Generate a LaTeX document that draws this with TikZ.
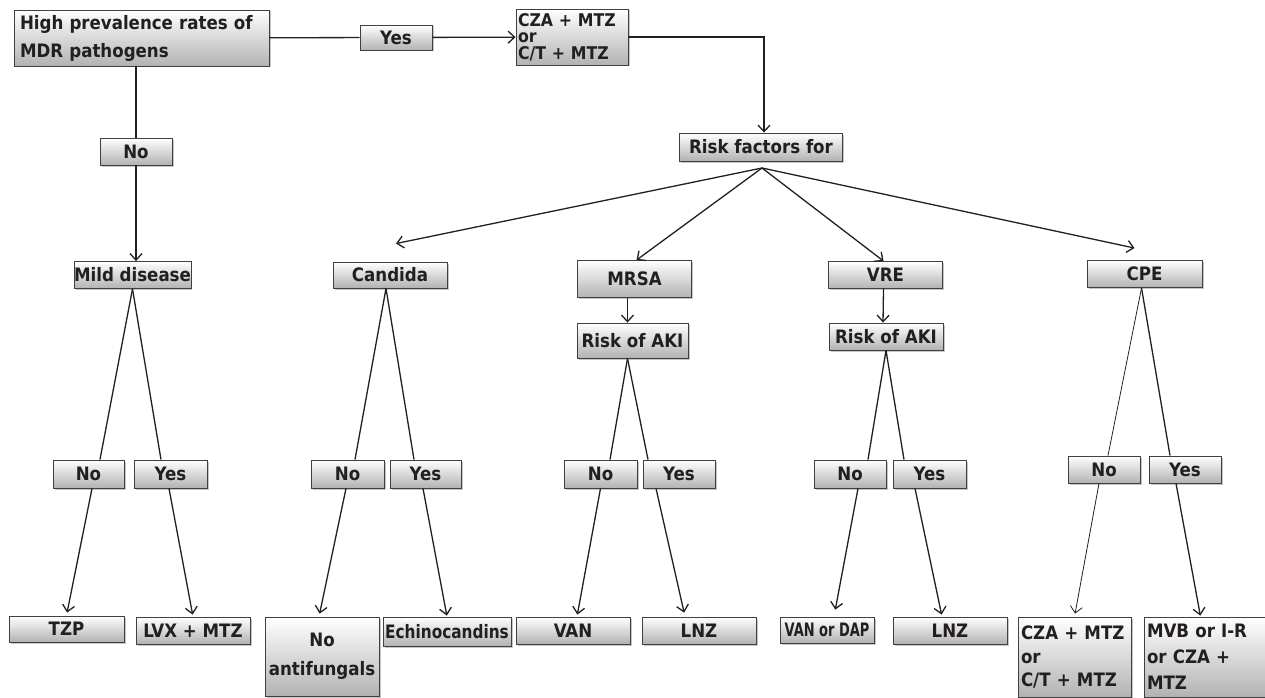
\documentclass[tikz,border=0pt]{standalone}
\usepackage{fontspec}
\setmainfont{DejaVu Sans Condensed Bold}
\usetikzlibrary{shadows,arrows.meta}
\definecolor{ink}{RGB}{35,31,32}
\begin{document}
\begin{tikzpicture}[x=1pt,y=-1pt,
	box/.style={draw=black!75, line width=0.9pt, top color=white, bottom color=black!30,
		drop shadow={shadow xshift=1.5pt, shadow yshift=-1.5pt, opacity=0.45},
		font=\fontsize{18.5}{20}\selectfont, text=ink, inner sep=0pt, align=center},
	leftbox/.style={box, align=left, inner xsep=4pt},
	line/.style={draw=ink, line width=1.3pt},
	>={Straight Barb[length=6.5pt,width=12pt]}]
	\useasboundingbox (0,0) rectangle (1265,698);
	\node[leftbox, minimum width=253pt, minimum height=56pt, text width=243pt, inner xsep=6pt, font=\fontsize{18.5}{28}\selectfont] (hp) at (141.5,38) {High prevalence rates of\\MDR pathogens};
	\node[box, minimum width=72pt, minimum height=25pt] (yes0) at (396,37.5) {Yes};
	\node[leftbox, minimum width=112pt, minimum height=56pt, text width=108pt, inner xsep=2pt, font=\fontsize{17.5}{16.5}\selectfont] (cza0) at (572,37) {CZA + MTZ\\or\\C/T + MTZ};
	\node[box, minimum width=72pt, minimum height=27pt] (no0) at (136,151.5) {No};
	\node[box, minimum width=163pt, minimum height=28pt] (rf) at (761,147) {Risk factors for};
	\coordinate (rfo) at (762,168);
	\node[box, minimum width=115pt, minimum height=27pt] (mild) at (132.5,275) {Mild disease};
	\node[box, minimum width=114pt, minimum height=26pt] (cand) at (390,275) {Candida};
	\node[box, minimum width=114pt, minimum height=37pt] (mrsa) at (634.5,279) {MRSA};
	\node[box, minimum width=111pt, minimum height=35pt] (akiA) at (632.5,340.5) {Risk of AKI};
	\node[box, minimum width=114pt, minimum height=27pt] (vre) at (885.5,275) {VRE};
	\node[box, minimum width=114pt, minimum height=27pt] (akiB) at (886,336.5) {Risk of AKI};
	\node[box, minimum width=115pt, minimum height=27pt] (cpe) at (1144.5,274) {CPE};
	\node[box, minimum width=71pt, minimum height=28pt] (mNo) at (88.5,474) {No};
	\node[box, minimum width=73pt, minimum height=28pt] (mYes) at (170.5,474) {Yes};
	\node[box, minimum width=73pt, minimum height=28pt] (cNo) at (347.5,474) {No};
	\node[box, minimum width=71pt, minimum height=28pt] (cYes) at (425.5,474) {Yes};
	\node[box, minimum width=73pt, minimum height=28pt] (aNo) at (600.5,474) {No};
	\node[box, minimum width=72pt, minimum height=28pt] (aYes) at (679,474) {Yes};
	\node[box, minimum width=72pt, minimum height=28pt] (vNo) at (850,474) {No};
	\node[box, minimum width=73pt, minimum height=28pt] (vYes) at (929.5,474) {Yes};
	\node[box, minimum width=72pt, minimum height=27pt] (pNo) at (1104,469.5) {No};
	\node[box, minimum width=72pt, minimum height=27pt] (pYes) at (1185,469.5) {Yes};
	\node[box, minimum width=115pt, minimum height=26pt] (tzp) at (66.5,629) {TZP};
	\node[box, minimum width=114pt, minimum height=27pt] (lvx) at (193,630.5) {LVX + MTZ};
	\node[box, minimum width=114pt, minimum height=79pt, font=\fontsize{18.5}{29}\selectfont] (noaf) at (322,656.5) {No\\antifungals};
	\node[box, minimum width=128pt, minimum height=29pt] (echi) at (447,631.5) {\scalebox{0.92}[1]{Echinocandins}};
	\node[box, minimum width=114pt, minimum height=27pt] (van) at (573,630.5) {VAN};
	\node[box, minimum width=114pt, minimum height=27pt] (lnzA) at (699,630.5) {LNZ};
	\node[box, minimum width=94pt, minimum height=26pt] (vod) at (827,630) {\scalebox{0.78}[1]{VAN or DAP}};
	\node[box, minimum width=114pt, minimum height=27pt] (lnzB) at (950,630.5) {LNZ};
	\node[leftbox, minimum width=113pt, minimum height=80pt, text width=107pt, inner xsep=3pt, font=\fontsize{18.5}{23.5}\selectfont] (czaB) at (1074.5,657) {CZA + MTZ\\or\\C/T + MTZ};
	\node[leftbox, minimum width=121pt, minimum height=80pt, text width=115pt, inner xsep=3pt, font=\fontsize{18.5}{26}\selectfont] (mvb) at (1204.5,657) {MVB or I-R\\or CZA +\\MTZ};
	\draw[line] (hp) -- (yes0);
	\draw[line,->] (yes0) -- (cza0);
	\draw[line,->] (cza0.east) -| ([xshift=3pt]rf.north);
	\draw[line] (hp.south -| no0.north) -- (no0.north);
	\draw[line,->] (no0.south) -- (no0.south |- mild.north);
	\draw[line,->] (rfo) -- ([xshift=6pt,yshift=18pt]cand.north);
	\draw[line,->] (rfo) -- ([xshift=2pt]mrsa.north);
	\draw[line,->] (rfo) -- ([xshift=-2pt]vre.north);
	\draw[line,->] (rfo) -- ([xshift=-10pt,yshift=12pt]cpe.north);
	\draw[line,->] ([xshift=-7pt]mrsa.south) -- ([xshift=-5pt]akiA.north);
	\draw[line,->] ([xshift=-2pt]vre.south) -- ([xshift=-3pt]akiB.north);
	\draw[line] (mild.south) -- ([xshift=11.5pt]mNo.north);
	\draw[line] (mild.south) -- ([xshift=-9.5pt]mYes.north);
	\draw[line] ([xshift=-4pt]cand.south) -- ([xshift=7.5pt]cNo.north);
	\draw[line] ([xshift=-4pt]cand.south) -- ([xshift=-11.5pt]cYes.north);
	\draw[line] ([xshift=-5pt]akiA.south) -- ([xshift=9.5pt]aNo.north);
	\draw[line] ([xshift=-5pt]akiA.south) -- ([xshift=-31pt]aYes.north);
	\draw[line] (akiB.south) -- ([xshift=18pt]vNo.north);
	\draw[line] (akiB.south) -- ([xshift=-25.5pt]vYes.north);
	\draw[line, line width=0.8pt] ([xshift=-3pt]cpe.south) -- ([xshift=4pt]pNo.north);
	\draw[line] ([xshift=-3pt]cpe.south) -- ([xshift=-15pt]pYes.north);
	\draw[line,->,shorten >=3pt] ([xshift=3.5pt]mNo.south) -- (tzp.north);
	\draw[line,->,shorten >=2pt] ([xshift=-1.5pt]mYes.south) -- (lvx.north);
	\draw[line,->,shorten >=3pt] ([xshift=-1.5pt]cNo.south) -- ([xshift=-3pt]noaf.north);
	\draw[line,->,shorten >=1pt] ([xshift=-2.5pt]cYes.south) -- (echi.north);
	\draw[line,->,shorten >=2pt] (aNo.south) -- ([xshift=4pt]van.north);
	\draw[line,->,shorten >=4pt] ([xshift=-23pt]aYes.south) -- ([xshift=-14pt]lnzA.north);
	\draw[line,->,shorten >=7pt] ([xshift=8pt]vNo.south) -- ([xshift=7pt]vod.north);
	\draw[line,->,shorten >=2pt] ([xshift=-14.5pt]vYes.south) -- ([xshift=-8pt]lnzB.north);
	\draw[line,->,line width=0.8pt,shorten >=3pt] ([xshift=-5pt]pNo.south) -- (czaB.north);
	\draw[line,->,shorten >=1pt] ([xshift=-9pt]pYes.south) -- ([xshift=-4pt]mvb.north);
\end{tikzpicture}
\end{document}
